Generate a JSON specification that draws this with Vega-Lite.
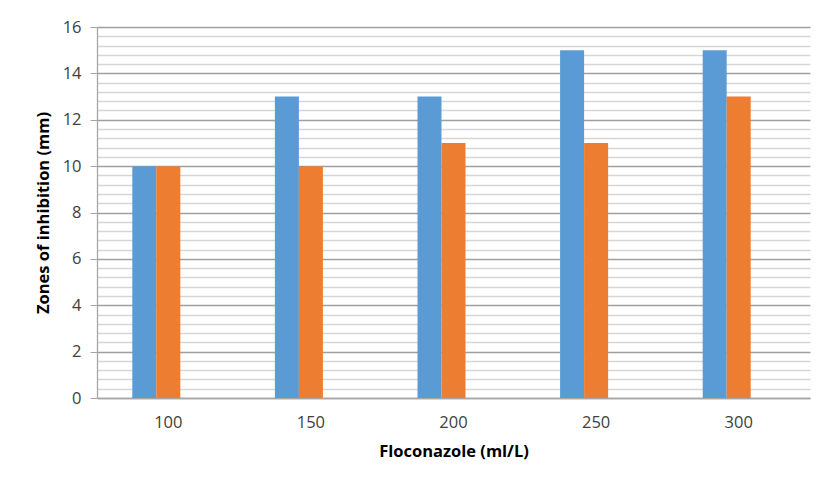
{
  "$schema": "https://vega.github.io/schema/vega-lite/v6.json",
  "autosize": {"type": "none"},
  "width": 713,
  "height": 371,
  "padding": {"left": 97, "top": 27, "right": 10, "bottom": 85},
  "background": "white",
  "config": {
    "view": {"stroke": null},
    "font": "Open Sans",
    "axis": {"labelFont": "Open Sans", "titleFont": "Open Sans"}
  },
  "data": {
    "values": [
      {"conc": "100", "series": "Series1", "zone": 10},
      {"conc": "100", "series": "Series2", "zone": 10},
      {"conc": "150", "series": "Series1", "zone": 13},
      {"conc": "150", "series": "Series2", "zone": 10},
      {"conc": "200", "series": "Series1", "zone": 13},
      {"conc": "200", "series": "Series2", "zone": 11},
      {"conc": "250", "series": "Series1", "zone": 15},
      {"conc": "250", "series": "Series2", "zone": 11},
      {"conc": "300", "series": "Series1", "zone": 15},
      {"conc": "300", "series": "Series2", "zone": 13}
    ]
  },
  "mark": {"type": "bar"},
  "encoding": {
    "x": {
      "field": "conc",
      "type": "nominal",
      "sort": ["100", "150", "200", "250", "300"],
      "scale": {"paddingInner": 0.495, "paddingOuter": 0.2475},
      "axis": {
        "title": "Floconazole (ml/L)",
        "titleFontSize": 16.5,
        "titleFontWeight": "bold",
        "titleColor": "#000000",
        "titlePadding": 13,
        "labelAngle": 0,
        "labelFontSize": 16.5,
        "labelColor": "#404040",
        "labelPadding": 16,
        "ticks": false,
        "domainColor": "#a6a6a6",
        "domainWidth": 1.3,
        "grid": false
      }
    },
    "xOffset": {
      "field": "series",
      "type": "nominal",
      "scale": {"domain": ["Series1", "Series2", "Series3"], "paddingInner": 0, "paddingOuter": 0}
    },
    "y": {
      "field": "zone",
      "type": "quantitative",
      "scale": {"domain": [0, 16], "nice": false},
      "axis": {
        "title": "Zones of inhibition (mm)",
        "titleFontSize": 16.5,
        "titleFontWeight": "bold",
        "titleColor": "#000000",
        "titlePadding": 11,
        "values": [0, 0.4, 0.8, 1.2, 1.6, 2, 2.4, 2.8, 3.2, 3.6, 4, 4.4, 4.8, 5.2, 5.6, 6, 6.4, 6.8, 7.2, 7.6, 8, 8.4, 8.8, 9.2, 9.6, 10, 10.4, 10.8, 11.2, 11.6, 12, 12.4, 12.8, 13.2, 13.6, 14, 14.4, 14.8, 15.2, 15.6, 16],
        "labelExpr": "abs(datum.value - round(datum.value / 2) * 2) < 0.01 ? format(datum.value, 'd') : ''",
        "labelOverlap": false,
        "labelFontSize": 16.5,
        "labelColor": "#404040",
        "labelPadding": 9,
        "tickSize": 7,
        "tickColor": {"condition": {"test": "abs(datum.value - round(datum.value / 2) * 2) < 0.01", "value": "#a6a6a6"}, "value": "transparent"},
        "gridColor": {"condition": {"test": "abs(datum.value - round(datum.value / 2) * 2) < 0.01", "value": "#a0a0a0"}, "value": "#d6d6d6"},
        "gridWidth": 1.3,
        "domainColor": "#a6a6a6",
        "domainWidth": 1.3
      }
    },
    "color": {
      "field": "series",
      "type": "nominal",
      "scale": {"domain": ["Series1", "Series2", "Series3"], "range": ["#5b9bd5", "#ed7d31", "#a5a5a5"]},
      "legend": null
    }
  }
}
